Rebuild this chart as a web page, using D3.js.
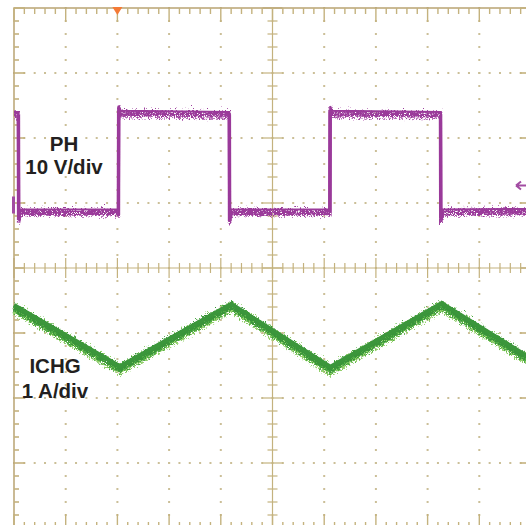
<!DOCTYPE html>
<html>
<head>
<meta charset="utf-8">
<script src="https://cdn.jsdelivr.net/npm/d3@7"></script>
<style>
  html, body { margin: 0; padding: 0; background: #fff; }
  svg { display: block; }
</style>
</head>
<body>
<script>
// time axis is in screen divisions (10 across), voltages / currents in their own units
let ph_time = [0, 0.085, 0.09, 0.12, 2.02, 2.025, 2.06, 4.165, 4.17, 4.2, 6.11, 6.115, 6.15, 8.25, 8.255, 8.29, 10]
let ph_volts = [15.0, 15.0, -1.2, 0, 0, 16.0, 15.2, 15.0, -1.4, 0, 0, 15.9, 15.2, 15.0, -1.4, 0, 0.1]
let ichg_time = [0, 2.05, 4.2, 6.12, 8.27, 10]
let ichg_amps = [1.43, 0.49, 1.45, 0.48, 1.46, 0.61]

let labels = [
  { text: "PH", x: 64, y: 151 },
  { text: "10 V/div", x: 64, y: 174 },
  { text: "ICHG", x: 55, y: 373 },
  { text: "1 A/div", x: 55, y: 398 }
]

let ph_scale = 10      // V/div
let ph_offset = 0.9    // div above centre
let ichg_scale = 1     // A/div
let ichg_offset = -2   // div

let width = 526, height = 525
let gridColor = "#c4b27e"
let dotColor = "#cbbf98"

let x = d3.scaleLinear().domain([0, 10]).range([14, 531])
let y = d3.scaleLinear().domain([-4, 4]).range([528, 8])

let svg = d3.select("body").append("svg")
  .attr("width", width)
  .attr("height", height)

let defs = svg.append("defs")
function noiseFilter(id, seed, scale, freq) {
  let f = defs.append("filter")
    .attr("id", id)
    .attr("filterUnits", "userSpaceOnUse")
    .attr("x", 0).attr("y", 0).attr("width", width).attr("height", height)
    .attr("color-interpolation-filters", "sRGB")
  f.append("feTurbulence")
    .attr("type", "turbulence")
    .attr("baseFrequency", freq)
    .attr("numOctaves", 2)
    .attr("seed", seed)
    .attr("result", "t")
  // keep the red channel flat so the trace only moves up and down
  f.append("feColorMatrix")
    .attr("in", "t")
    .attr("type", "matrix")
    .attr("values", "0 0 0 0 0.5  0 1 0 0 0  0 0 0 0 0  0 0 0 0 1")
    .attr("result", "m")
  f.append("feDisplacementMap")
    .attr("in", "SourceGraphic")
    .attr("in2", "m")
    .attr("scale", scale)
    .attr("xChannelSelector", "R")
    .attr("yChannelSelector", "G")
}
noiseFilter("noiseA", 3, 13, "0.9 0.6")
noiseFilter("noiseB", 11, 16, "0.7 0.9")
noiseFilter("noiseC", 23, 10, "1.1 0.8")

let grid = svg.append("g")

let majors = d3.range(0, 11)
let minorsX = d3.range(0, 51).map(d => d / 5)
let minorsY = d3.range(-20, 21).map(d => d / 5)
let majorsY = d3.range(-4, 5)

// dotted grid along the major lines
majors.filter(d => d != 0 && d != 5 && d != 10).forEach(function(m) {
  grid.selectAll(null)
    .data(minorsY)
    .enter()
    .append("rect")
    .attr("x", x(m) - 1)
    .attr("y", d => y(d) - 1)
    .attr("width", 2)
    .attr("height", 2)
    .attr("fill", dotColor)
})
majorsY.filter(d => d != 0 && d != -4 && d != 4).forEach(function(m) {
  grid.selectAll(null)
    .data(minorsX)
    .enter()
    .append("rect")
    .attr("x", d => x(d) - 1)
    .attr("y", y(m) - 1)
    .attr("width", 2)
    .attr("height", 2)
    .attr("fill", dotColor)
})

// centre cross
grid.append("line")
  .attr("x1", x(5)).attr("x2", x(5)).attr("y1", y(4)).attr("y2", y(-4))
  .attr("stroke", gridColor).attr("stroke-width", 1.2)
grid.append("line")
  .attr("x1", x(0)).attr("x2", x(10)).attr("y1", y(0)).attr("y2", y(0))
  .attr("stroke", gridColor).attr("stroke-width", 1.2)

grid.selectAll(null)
  .data(minorsX)
  .enter()
  .append("line")
  .attr("x1", d => x(d)).attr("x2", d => x(d))
  .attr("y1", d => y(0) - (d % 1 == 0 ? 10 : 5))
  .attr("y2", d => y(0) + (d % 1 == 0 ? 10 : 5))
  .attr("stroke", gridColor).attr("stroke-width", 1.2)

grid.selectAll(null)
  .data(minorsY)
  .enter()
  .append("line")
  .attr("y1", d => y(d)).attr("y2", d => y(d))
  .attr("x1", d => x(5) - (Math.abs(d % 1) < 1e-9 ? 10 : 5))
  .attr("x2", d => x(5) + (Math.abs(d % 1) < 1e-9 ? 10 : 5))
  .attr("stroke", gridColor).attr("stroke-width", 1.2)

// border with ticks
grid.append("rect")
  .attr("x", x(0)).attr("y", y(4))
  .attr("width", x(10) - x(0)).attr("height", y(-4) - y(4))
  .attr("fill", "none").attr("stroke", "#b9a473").attr("stroke-width", 1.5)

grid.selectAll(null)
  .data(minorsX)
  .enter()
  .append("line")
  .attr("x1", d => x(d)).attr("x2", d => x(d))
  .attr("y1", y(4))
  .attr("y2", d => y(4) + (d % 1 == 0 ? 14 : 6))
  .attr("stroke", gridColor).attr("stroke-width", 1.4)
grid.selectAll(null)
  .data(minorsX)
  .enter()
  .append("line")
  .attr("x1", d => x(d)).attr("x2", d => x(d))
  .attr("y1", y(-4))
  .attr("y2", d => y(-4) - (d % 1 == 0 ? 14 : 6))
  .attr("stroke", gridColor).attr("stroke-width", 1.4)
grid.selectAll(null)
  .data(minorsY)
  .enter()
  .append("line")
  .attr("y1", d => y(d)).attr("y2", d => y(d))
  .attr("x1", x(0))
  .attr("x2", d => x(0) + (Math.abs(d % 1) < 1e-9 ? 11 : 5))
  .attr("stroke", gridColor).attr("stroke-width", 1.6)
grid.selectAll(null)
  .data(minorsY)
  .enter()
  .append("line")
  .attr("y1", d => y(d)).attr("y2", d => y(d))
  .attr("x1", x(10))
  .attr("x2", d => x(10) - (Math.abs(d % 1) < 1e-9 ? 11 : 5))
  .attr("stroke", gridColor).attr("stroke-width", 1.6)

// traces
let phY = v => y(ph_offset + v / ph_scale)
let ichgY = a => y(ichg_offset + a / ichg_scale)

let phLine = d3.line().x(d => x(d[0])).y(d => phY(d[1]))
let ichgLine = d3.line().x(d => x(d[0])).y(d => ichgY(d[1]))

let phData = d3.zip(ph_time, ph_volts)
let ichgData = d3.zip(ichg_time, ichg_amps)

let traces = svg.append("g")

function drawTrace(data, line, layers) {
  layers.forEach(function(l) {
    traces.append("path").datum(data)
      .attr("d", line).attr("fill", "none")
      .attr("stroke", l.color).attr("stroke-width", l.w)
      .attr("filter", l.filter ? "url(#" + l.filter + ")" : null)
  })
}

drawTrace(ichgData, ichgLine, [
  { color: "#93d06c", w: 7, filter: "noiseB" },
  { color: "#4fab45", w: 6, filter: "noiseA" },
  { color: "#3a943a", w: 5, filter: "noiseC" },
  { color: "#3b963b", w: 4 }
])

drawTrace(phData, phLine, [
  { color: "#bb74bb", w: 3, filter: "noiseB" },
  { color: "#9c3d9c", w: 3.5, filter: "noiseA" },
  { color: "#9a3a9a", w: 3, filter: "noiseC" },
  { color: "#9a3a9a", w: 2 }
])

// channel ground marker, trigger level arrow and trigger position
svg.append("rect")
  .attr("x", x(0) - 2).attr("y", phY(0) - 13)
  .attr("width", 3).attr("height", 17)
  .attr("fill", "#a24ca2")
let trigY = phY(3.7)
svg.append("path")
  .attr("d", `M${width - 10},${trigY} l5,-4 M${width - 10},${trigY} l5,4 M${width - 10},${trigY} L${width},${trigY}`)
  .attr("stroke", "#a24ca2").attr("stroke-width", 2).attr("fill", "none")
svg.append("path")
  .attr("d", `M${x(2) - 5},${y(4) - 1} L${x(2) + 5},${y(4) - 1} L${x(2)},${y(4) + 7} Z`)
  .attr("fill", "#f47a36")

svg.selectAll("text.lbl")
  .data(labels)
  .enter()
  .append("text")
  .attr("class", "lbl")
  .attr("x", d => d.x)
  .attr("y", d => d.y)
  .attr("text-anchor", "middle")
  .attr("font-family", "'Liberation Sans', Arial, sans-serif")
  .attr("font-weight", "bold")
  .attr("font-size", 20.5)
  .attr("fill", "#231f20")
  .text(d => d.text)
</script>
</body>
</html>
